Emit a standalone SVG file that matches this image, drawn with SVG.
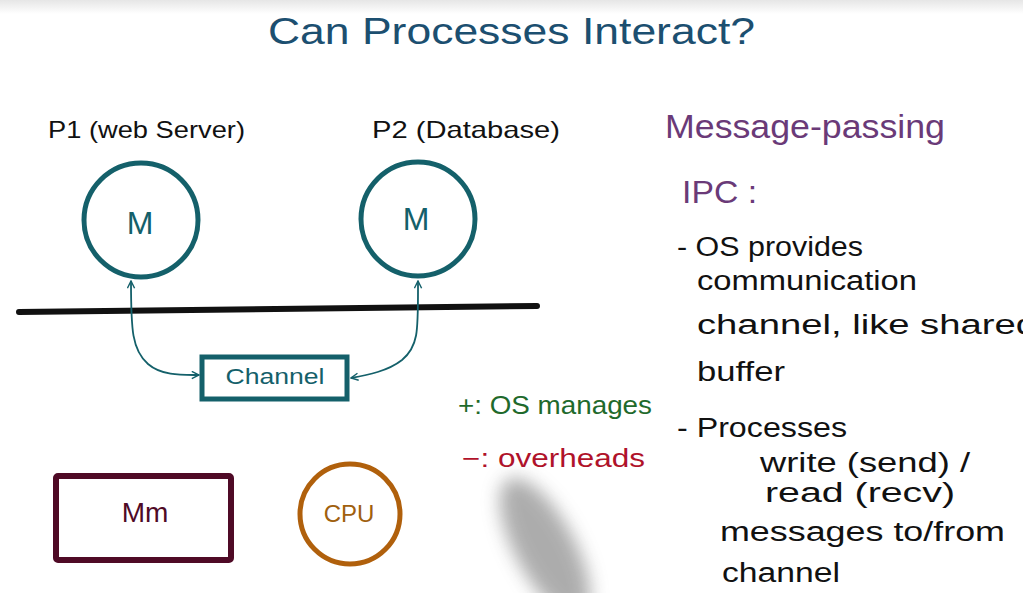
<svg xmlns="http://www.w3.org/2000/svg" width="1023" height="593" viewBox="0 0 1023 593">
<style>
text{font-family:"Liberation Sans","DejaVu Sans",sans-serif}
.ink{fill:#111}
.teal{stroke:#14606a;fill:none}
.tealt{fill:#14606a}
.purple{fill:#6a3a78}
</style>
<defs>
<marker id="ah" viewBox="0 0 10 10" refX="9" refY="5" markerWidth="9" markerHeight="9" markerUnits="userSpaceOnUse" orient="auto-start-reverse">
<path d="M1,1 L9,5 L1,9" fill="none" stroke="#14606a" stroke-width="1.6"/>
</marker>
<linearGradient id="topg" x1="0" y1="0" x2="0" y2="1">
<stop offset="0" stop-color="#e6e6e6"/><stop offset="1" stop-color="#ffffff"/>
</linearGradient>
<filter id="blur" x="-50%" y="-50%" width="200%" height="200%"><feGaussianBlur stdDeviation="9"/></filter>
</defs>
<rect width="1023" height="593" fill="#fff"/>
<rect width="1023" height="14" fill="url(#topg)"/>
<text x="268" y="44" font-size="36" fill="#1c4f70" textLength="487" lengthAdjust="spacingAndGlyphs">Can Processes Interact?</text>

<g id="p1">
<text class="ink" x="48" y="138" font-size="24" textLength="197" lengthAdjust="spacingAndGlyphs">P1 (web Server)</text>
<circle class="teal" cx="141" cy="220" r="57" stroke-width="5"/>
<text class="tealt" x="140" y="234" font-size="32" text-anchor="middle">M</text>
</g>
<g id="p2">
<text class="ink" x="372" y="138" font-size="24" textLength="188" lengthAdjust="spacingAndGlyphs">P2 (Database)</text>
<circle class="teal" cx="418" cy="219" r="57" stroke-width="5"/>
<text class="tealt" x="416" y="230" font-size="32" text-anchor="middle">M</text>
</g>
<g id="boundary">
<line x1="19" y1="312" x2="537" y2="306" stroke="#111" stroke-width="6" stroke-linecap="round"/>
</g>
<g id="channel">
<rect class="teal" x="202" y="357" width="145" height="42" stroke-width="5"/>
<text class="tealt" x="275" y="384" font-size="22" text-anchor="middle" textLength="99" lengthAdjust="spacingAndGlyphs">Channel</text>
</g>
<g id="connectors" fill="none" stroke="#14606a" stroke-width="1.8">
<path d="M131,281 C131,330 132,350 148,364 C162,376 182,375 199,375" marker-start="url(#ah)" marker-end="url(#ah)"/>
<path d="M418,281 C418,330 419,346 402,360 C388,371 368,375 351,378" marker-start="url(#ah)" marker-end="url(#ah)"/>
</g>
<g id="pros">
<text x="458" y="414" font-size="25" fill="#1f6a2c" textLength="194" lengthAdjust="spacingAndGlyphs">+: OS manages</text>
</g>
<g id="cons">
<text x="462" y="467" font-size="25" fill="#b0122a" textLength="183" lengthAdjust="spacingAndGlyphs">−: overheads</text>
</g>
<g id="mm">
<rect x="56" y="476" width="175" height="84" fill="none" stroke="#4f0a26" stroke-width="6" rx="2"/>
<text x="145" y="522" font-size="28" fill="#4f0a26" text-anchor="middle">Mm</text>
</g>
<g id="cpu">
<circle cx="350" cy="514" r="50" fill="none" stroke="#b0600c" stroke-width="5"/>
<text x="349" y="522" font-size="24" fill="#a0600e" text-anchor="middle">CPU</text>
</g>
<g id="notes">
<text class="purple" x="665" y="138" font-size="34" textLength="280" lengthAdjust="spacingAndGlyphs">Message-passing</text>
<text class="purple" x="682" y="203" font-size="32" textLength="75" lengthAdjust="spacingAndGlyphs">IPC :</text>
<text class="ink" x="677" y="256" font-size="27" textLength="186" lengthAdjust="spacingAndGlyphs">- OS provides</text>
<text class="ink" x="697" y="290" font-size="27" textLength="220" lengthAdjust="spacingAndGlyphs">communication</text>
<text class="ink" x="697" y="334" font-size="27" textLength="340" lengthAdjust="spacingAndGlyphs">channel, like shared</text>
<text class="ink" x="697" y="381" font-size="27" textLength="88" lengthAdjust="spacingAndGlyphs">buffer</text>
<text class="ink" x="677" y="437" font-size="27" textLength="170" lengthAdjust="spacingAndGlyphs">-  Processes</text>
<text class="ink" x="760" y="472" font-size="27" textLength="210" lengthAdjust="spacingAndGlyphs">write (send) /</text>
<text class="ink" x="765" y="502" font-size="27" textLength="190" lengthAdjust="spacingAndGlyphs">read (recv)</text>
<text class="ink" x="720" y="541" font-size="27" textLength="285" lengthAdjust="spacingAndGlyphs">messages to/from</text>
<text class="ink" x="722" y="582" font-size="27" textLength="118" lengthAdjust="spacingAndGlyphs">channel</text>
</g>
<g id="pen-shadow" filter="url(#blur)" opacity="0.55">
<ellipse cx="545" cy="548" rx="30" ry="78" fill="#6a6a6a" transform="rotate(-28 545 548)"/>
</g>
</svg>
